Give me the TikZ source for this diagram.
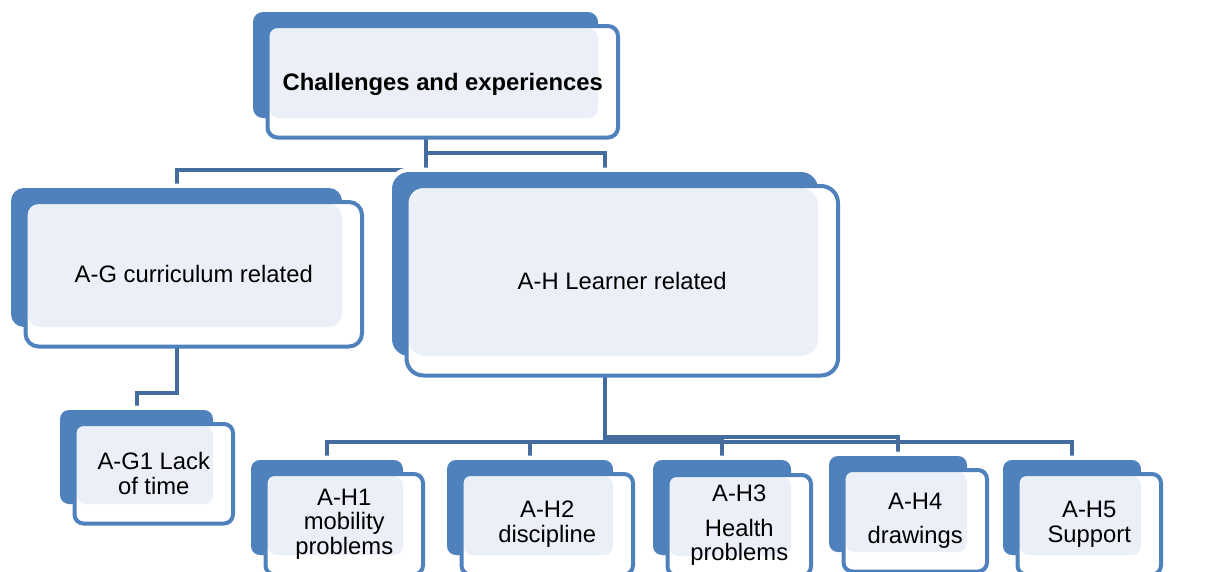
\documentclass[tikz,border=0pt]{standalone}
\usepackage{fontspec}
\setmainfont{Liberation Sans}
\usetikzlibrary{calc,backgrounds}
\definecolor{boxblue}{HTML}{4F81BD}
\definecolor{lightfill}{HTML}{EBEFF7}
\definecolor{connblue}{HTML}{456C9F}
\begin{document}
\begin{tikzpicture}[x=1pt,y=-1pt,
  bluebox/.style={fill=boxblue, draw=none, inner sep=0pt, outer sep=0pt,
    preaction={draw=white, line width=9pt}},
  outbox/.style={draw=boxblue, line width=4pt, fill=white, inner sep=0pt, outer sep=0pt,
    align=center, font=\fontsize{23.8pt}{24.2pt}\selectfont,
    path picture={\fill[lightfill]
      ($(path picture bounding box.north west)+(2,2)$) rectangle
      ($(path picture bounding box.south east)+(-20,-19.5)$);}},
  conn/.style={draw=connblue, line width=4pt}]
\useasboundingbox (0,0) rectangle (1218,571);

% top
\node[bluebox, minimum width=345pt, minimum height=106pt, rounded corners=10pt] (Tb) at (425.5,65) {};
\node[outbox, minimum width=350.5pt, minimum height=111.5pt, rounded corners=10pt, text depth=0pt, font=\fontsize{23.8pt}{24.2pt}\selectfont\bfseries] (T) at (442.75,81.75) {Challenges and experiences};

% A-G
\node[bluebox, minimum width=331pt, minimum height=139pt, rounded corners=13pt] (AGb) at (176.5,257.5) {};
\node[outbox, minimum width=336.5pt, minimum height=144.5pt, rounded corners=13pt] (AG) at (193.75,274.25) {A-G curriculum related};

% A-G1
\node[bluebox, minimum width=153pt, minimum height=94pt, rounded corners=9pt] (AG1b) at (136.5,457) {};
\node[outbox, minimum width=158.5pt, minimum height=99.5pt, rounded corners=9pt] (AG1) at (153.75,473.75) {A-G1 Lack\\[0.8pt]of time};

% A-H
\node[bluebox, minimum width=426pt, minimum height=184pt, rounded corners=17pt] (AHb) at (605,264) {};
\node[outbox, minimum width=431.5pt, minimum height=189.5pt, rounded corners=17pt] (AH) at (622.25,280.75) {A-H Learner related};

% bottom row
\node[bluebox, minimum width=152pt, minimum height=95pt, rounded corners=9pt] (H1b) at (327,507.5) {};
\node[outbox, minimum width=157.5pt, minimum height=100.5pt, rounded corners=9pt] (H1) at (344.25,524.25) {A-H1\\mobility\\problems};

\node[bluebox, minimum width=166pt, minimum height=95pt, rounded corners=9pt] (H2b) at (530,507.5) {};
\node[outbox, minimum width=171.5pt, minimum height=100.5pt, rounded corners=9pt] (H2) at (547.25,524.25) {A-H2\\[0.8pt]discipline};

\node[bluebox, minimum width=138pt, minimum height=95pt, rounded corners=9pt] (H3b) at (722,507.5) {};
\node[outbox, minimum width=143.5pt, minimum height=100.5pt, rounded corners=9pt] (H3) at (739.25,525.25) {A-H3\\[10pt]Health\\problems};

\node[bluebox, minimum width=138pt, minimum height=96pt, rounded corners=9pt] (H4b) at (898,504) {};
\node[outbox, minimum width=143.5pt, minimum height=101.5pt, rounded corners=9pt] (H4) at (915.25,520.75) {A-H4\\[9pt]drawings};

\node[bluebox, minimum width=138pt, minimum height=95pt, rounded corners=9pt] (H5b) at (1072,507.5) {};
\node[outbox, minimum width=143.5pt, minimum height=100.5pt, rounded corners=9pt] (H5) at (1089.25,524.25) {A-H5\\[0.8pt]Support};

\begin{pgfonlayer}{background}
\draw[conn] (Tb.south) |- ([yshift=18pt]AGb.north) -- (AGb.north);
\draw[conn] (Tb.south) |- ([yshift=19pt]AHb.north) -- (AHb.north);
\draw[conn] (AGb.south) |- ([yshift=17pt]AG1b.north) -- (AG1b.north);
\draw[conn] (AHb.south) |- ([yshift=18.5pt]H1b.north) -- (H1b.north);
\draw[conn] (AHb.south) |- ([yshift=18.5pt]H2b.north) -- (H2b.north);
\draw[conn] (AHb.south) |- ([yshift=21pt]H3b.north) -- (H3b.north);
\draw[conn] (AHb.south) |- ([yshift=19pt]H4b.north) -- (H4b.north);
\draw[conn] (AHb.south) |- ([yshift=18pt]H5b.north) -- (H5b.north);
\end{pgfonlayer}
\end{tikzpicture}
\end{document}
